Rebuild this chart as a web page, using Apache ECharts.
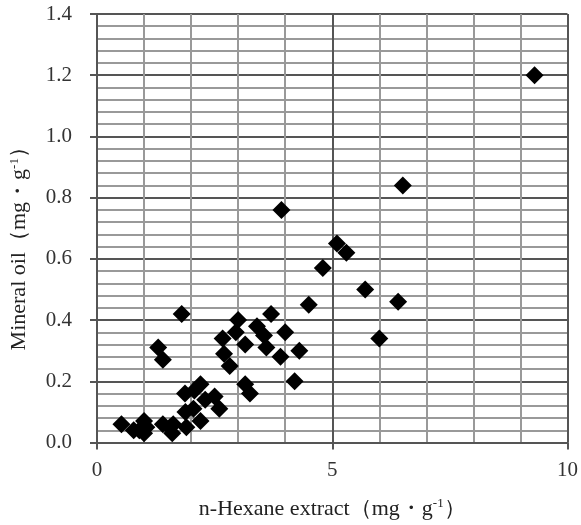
<!DOCTYPE html>
<html>
<head>
<meta charset="utf-8">
<script src="https://cdn.jsdelivr.net/npm/echarts@6/dist/echarts.min.js"></script>
<style>
  html, body { margin: 0; padding: 0; background: #fff; }
  #main { width: 581px; height: 525px; }
</style>
</head>
<body>
<div id="main"></div>
<script>
// n-Hexane extract (mg/g) vs Mineral oil (mg/g)
var hexane = [0.52, 0.78, 0.9, 1.0, 1.0, 1.05, 1.4, 1.6, 1.62, 1.55, 1.9, 1.88, 2.05, 2.2, 1.87, 2.07, 2.2, 2.3, 2.5, 2.6,
              3.15, 3.25, 4.2, 1.8, 1.3, 1.4, 2.67, 2.7, 2.82, 3.0, 2.95, 3.15, 3.4, 3.7, 3.55, 3.6, 3.9, 4.0, 4.3,
              3.92, 4.5, 4.8, 5.1, 5.3, 5.7, 6.4, 6.0, 6.5, 9.3];
var mineral = [0.06, 0.04, 0.04, 0.07, 0.03, 0.05, 0.06, 0.03, 0.06, 0.05, 0.05, 0.10, 0.11, 0.07, 0.16, 0.17, 0.19, 0.14, 0.15, 0.11,
               0.19, 0.16, 0.20, 0.42, 0.31, 0.27, 0.34, 0.29, 0.25, 0.40, 0.36, 0.32, 0.38, 0.42, 0.35, 0.31, 0.28, 0.36, 0.30,
               0.76, 0.45, 0.57, 0.65, 0.62, 0.50, 0.46, 0.34, 0.84, 1.20];

var points = [];
for (var i = 0; i < hexane.length; i++) {
    points.push([hexane[i], mineral[i]]);
}

var font = 'Liberation Serif';
var nameRich = { sup: { fontFamily: font, fontSize: 13, color: '#222', verticalAlign: 'top', padding: [0, 0, 10, 0] } };
var myChart = echarts.init(document.getElementById('main'));
myChart.setOption({
    animation: false,
    textStyle: { fontFamily: font },
    grid: { left: 97, right: 12, top: 14, bottom: 82 },
    xAxis: {
        type: 'value',
        min: 0, max: 10, interval: 5,
        name: 'n-Hexane extract（mg・g{sup|-1}）',
        nameLocation: 'middle',
        nameGap: 55,
        nameTextStyle: { fontFamily: font, fontSize: 22, color: '#222', rich: nameRich },
        axisLine: { show: true, lineStyle: { color: '#555', width: 2 } },
        axisTick: { show: true, inside: false, length: 7, lineStyle: { color: '#555', width: 2 } },
        axisLabel: { fontFamily: font, fontSize: 21, color: '#333', margin: 17 },
        splitLine: { show: true, lineStyle: { color: '#555', width: 2 } },
        minorTick: { show: false, splitNumber: 5 },
        minorSplitLine: { show: true, lineStyle: { color: '#999', width: 2 } }
    },
    yAxis: {
        type: 'value',
        min: 0, max: 1.4, interval: 0.2,
        name: 'Mineral oil（mg・g{sup|-1}）',
        nameLocation: 'middle',
        nameGap: 66,
        nameRotate: 90,
        nameTextStyle: { fontFamily: font, fontSize: 22, color: '#222', rich: nameRich, padding: [0, 30, 0, 0] },
        axisLine: { show: true, lineStyle: { color: '#555', width: 2 } },
        axisTick: { show: true, inside: false, length: 7, lineStyle: { color: '#555', width: 2 } },
        axisLabel: {
            fontFamily: font, fontSize: 21, color: '#333', margin: 25,
            formatter: function (v) { return v.toFixed(1); }
        },
        splitLine: { show: true, lineStyle: { color: '#555', width: 2 } },
        minorTick: { show: false, splitNumber: 5 },
        minorSplitLine: { show: true, lineStyle: { color: '#999', width: 2 } }
    },
    series: [{
        type: 'scatter',
        symbol: 'diamond',
        symbolSize: 18,
        itemStyle: { color: '#000', opacity: 1 },
        data: points
    }]
});
</script>
</body>
</html>
